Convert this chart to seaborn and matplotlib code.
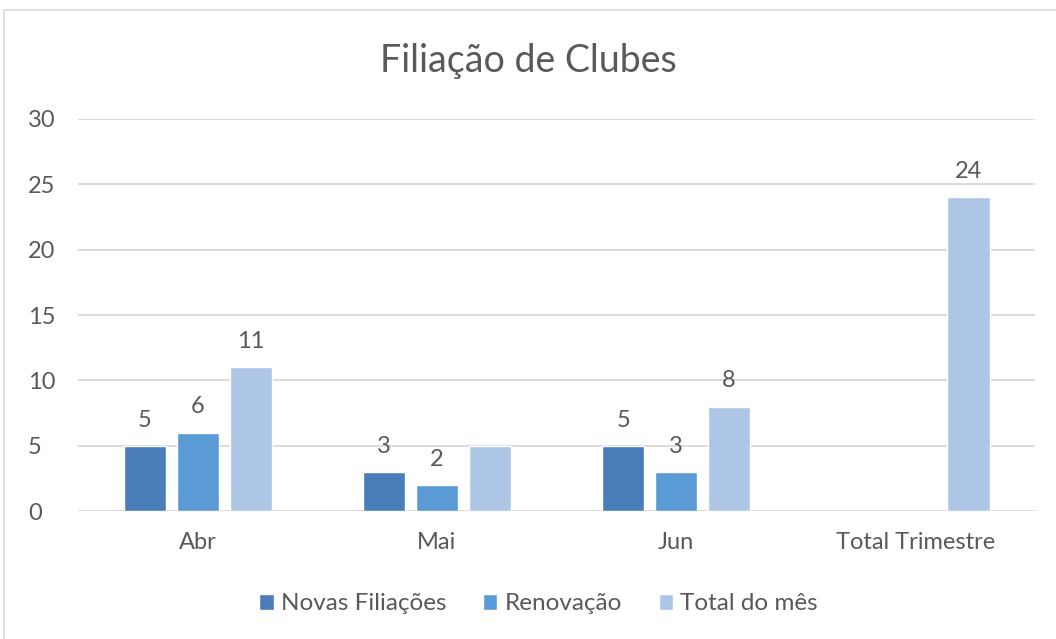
import pandas as pd
import matplotlib.pyplot as plt
import seaborn as sns
from matplotlib.patches import Rectangle

# Data
categories = ['Abr', 'Mai', 'Jun', 'Total Trimestre']
novas = [5, 3, 5, None]
renovacao = [6, 2, 3, None]
total_mes = [11, 5, 8, 24]
series = ['Novas Filiações', 'Renovação', 'Total do mês']
# which labels are shown in the original (Mai total has none)
show_label = {'Novas Filiações': [True, True, True, False],
              'Renovação': [True, True, True, False],
              'Total do mês': [True, False, True, True]}

df = pd.DataFrame({'Mes': categories, series[0]: novas,
                   series[1]: renovacao, series[2]: total_mes})
long = df.melt(id_vars='Mes', var_name='Serie', value_name='Valor')

colors = ['#4A7EBB', '#5B9BD5', '#ADC6E5']
text_color = '#595959'

sns.set_style('white')
plt.rcParams['font.family'] = ['Lato', 'DejaVu Sans']

fig = plt.figure(figsize=(10.56, 6.39), dpi=100)
ax = fig.add_axes([0.074, 0.2, 0.906, 0.614])

sns.barplot(data=long, x='Mes', y='Valor', hue='Serie', order=categories,
            hue_order=series, palette=colors, width=0.665, gap=0.2,
            saturation=1, ax=ax, legend=True)

# data labels
for cont, name in zip(ax.containers, series):
    labels = [f'{v:g}' if ok and v == v else ''
              for v, ok in zip(cont.datavalues, show_label[name])]
    ax.bar_label(cont, labels=labels, padding=11, fontsize=17, color=text_color)

ax.set_ylim(0, 30)
ax.set_yticks(range(0, 31, 5))
ax.set_xlim(-0.5, 3.5)
ax.yaxis.grid(True, color='#D9D9D9', linewidth=1.3)
ax.set_axisbelow(True)
for s in ax.spines.values():
    s.set_visible(False)
ax.tick_params(axis='both', length=0, labelsize=17, colors=text_color)
ax.tick_params(axis='x', pad=15)
ax.tick_params(axis='y', pad=36)
for t in ax.get_yticklabels():
    t.set_horizontalalignment('left')
ax.set_xlabel('')
ax.set_ylabel('')

fig.text(0.5, 0.905, 'Filiação de Clubes', ha='center', va='center',
         fontsize=27, color=text_color)

handles, labs = ax.get_legend_handles_labels()
ax.legend(handles, labs, loc='center', bbox_to_anchor=(0.51, 0.055),
          bbox_transform=fig.transFigure, ncol=3, frameon=False,
          fontsize=17.5, handlelength=0.6, handleheight=0.6,
          handletextpad=0.3, columnspacing=1.5, labelcolor=text_color)

# chart border
fig.patches.append(Rectangle((4 / 1056, -0.01), 1.1, 1 - 10 / 639 + 0.01,
                             transform=fig.transFigure, fill=False,
                             edgecolor='#D9D9D9', linewidth=1.2))

fig.savefig('out.png', dpi=100)
